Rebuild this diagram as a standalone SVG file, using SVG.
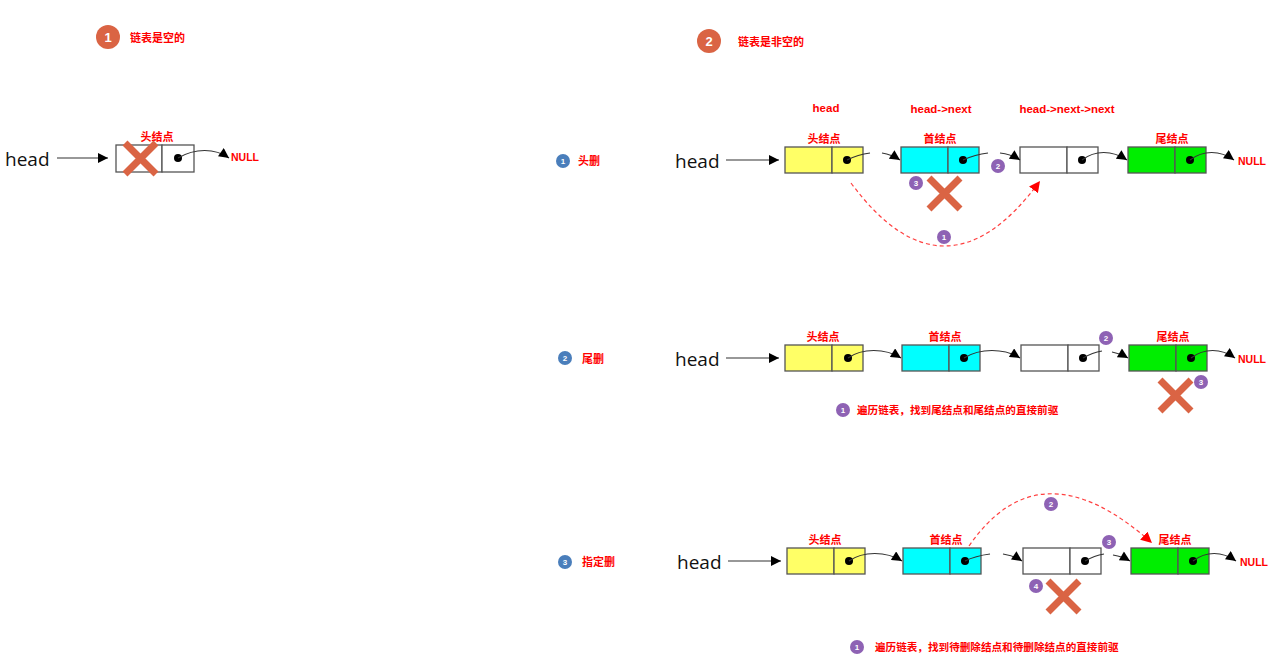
<svg xmlns="http://www.w3.org/2000/svg" width="1284" height="667" viewBox="0 0 1284 667">
<style>
.bg{fill:#fff}
.cell{stroke:#555;stroke-width:1.3}
.w{fill:#fff}.y{fill:#FFFF66}.c{fill:#00FFFF}.g{fill:#00EE00}
.lbl{font-family:"Noto Sans CJK SC","Liberation Sans",sans-serif;font-weight:bold;font-size:11px;fill:#FF0000}
.lbs{font-size:10.6px}
.en{font-family:"Liberation Sans","Noto Sans CJK SC",sans-serif;font-weight:bold;font-size:11.5px;fill:#FF0000}
.nul{font-family:"Liberation Sans",sans-serif;font-weight:bold;font-size:10.5px;fill:#FF0000}
.head{font-family:"Open Sans","Noto Sans",sans-serif;font-size:19px;fill:#111}
.ptr{fill:none;stroke:#333;stroke-width:1.2}
.dot{fill:#000}
.dash{fill:none;stroke:#FF4040;stroke-width:1.2;stroke-dasharray:4 3}
.x{stroke:#DA6444;stroke-width:7;stroke-linecap:butt}
.big{fill:#DA6444}
.pur{fill:#8E62B4}
.blu{fill:#4A7EBB}
.num{font-family:"Liberation Sans",sans-serif;font-weight:bold;fill:#fff;text-anchor:middle}
</style>
<defs>
<marker id="ah" viewBox="0 0 10 10" refX="10" refY="5" markerWidth="11" markerHeight="10" markerUnits="userSpaceOnUse" orient="auto"><path d="M0,0 L10,5 L0,10 z" fill="#000"/></marker>
<marker id="ahr" viewBox="0 0 10 10" refX="10" refY="5" markerWidth="11" markerHeight="11" markerUnits="userSpaceOnUse" orient="auto"><path d="M0,0 L10,5 L0,10 z" fill="#FF0000"/></marker>
</defs>
<rect class="bg" width="1284" height="667"/>

<!-- Section titles -->
<g id="title1">
<circle class="big" cx="108" cy="37" r="12"/><text class="num" x="108" y="42" font-size="13">1</text>
<text class="lbl" x="130" y="42">链表是空的</text>
</g>
<g id="title2">
<circle class="big" cx="709" cy="41" r="12"/><text class="num" x="709" y="46" font-size="13">2</text>
<text class="lbl" x="738" y="46">链表是非空的</text>
</g>
<g id="case1">
<circle class="blu" cx="563" cy="161" r="7"/><text class="num" x="563" y="164" font-size="8">1</text>
<text class="lbl" x="578" y="165">头删</text>
</g>
<g id="case2">
<circle class="blu" cx="565" cy="358" r="7"/><text class="num" x="565" y="361" font-size="8">2</text>
<text class="lbl" x="582" y="363">尾删</text>
</g>
<g id="case3">
<circle class="blu" cx="565" cy="562" r="7"/><text class="num" x="565" y="565" font-size="8">3</text>
<text class="lbl" x="582" y="566">指定删</text>
</g>

<!-- Section 1 -->
<g id="s1-head"><text class="head" x="5" y="166">head</text></g>
<g id="s1-node">
<rect class="cell w" x="116" y="145" width="46" height="27"/>
<rect class="cell w" x="162" y="145" width="32" height="27"/>
<text class="lbl" x="157" y="141" text-anchor="middle">头结点</text>
<circle class="dot" cx="178" cy="158" r="4"/>
<path class="x" d="M125,143 L156,174 M156,143 L125,174"/>
</g>
<g id="s1-null"><text class="nul" x="231" y="161">NULL</text></g>

<!-- Row 1 -->
<g id="r1-head"><text class="head" x="675" y="168">head</text></g>
<g id="r1-n1">
<rect class="cell y" x="785" y="147" width="47" height="26"/>
<rect class="cell y" x="832" y="147" width="31" height="26"/>
<circle class="dot" cx="847" cy="160" r="4"/>
<text class="lbl" x="824" y="143" text-anchor="middle">头结点</text>
<text class="en" x="826" y="112" text-anchor="middle">head</text>
</g>
<g id="r1-n2">
<rect class="cell c" x="901" y="147" width="47" height="26"/>
<rect class="cell c" x="948" y="147" width="31" height="26"/>
<circle class="dot" cx="963" cy="160" r="4"/>
<text class="lbl" x="940" y="143" text-anchor="middle">首结点</text>
<text class="en" x="941" y="113" text-anchor="middle">head-&gt;next</text>
</g>
<g id="r1-n3">
<rect class="cell w" x="1020" y="147" width="47" height="26"/>
<rect class="cell w" x="1067" y="147" width="31" height="26"/>
<circle class="dot" cx="1082" cy="160" r="4"/>
<text class="en" x="1067" y="113" text-anchor="middle">head-&gt;next-&gt;next</text>
</g>
<g id="r1-n4">
<rect class="cell g" x="1128" y="147" width="47" height="26"/>
<rect class="cell g" x="1175" y="147" width="31" height="26"/>
<circle class="dot" cx="1190" cy="160" r="4"/>
<text class="lbl" x="1172" y="143" text-anchor="middle">尾结点</text>
</g>
<g id="r1-null"><text class="nul" x="1238" y="165">NULL</text></g>
<g id="r1-marks">
<circle class="pur" cx="916" cy="183" r="7"/><text class="num" x="916" y="186" font-size="8">3</text>
<path class="x" d="M929,178 L960,209 M960,178 L929,209"/>
<circle class="pur" cx="998" cy="166" r="7"/><text class="num" x="998" y="169" font-size="8">2</text>
<circle class="pur" cx="944" cy="237" r="7"/><text class="num" x="944" y="240" font-size="8">1</text>
</g>

<!-- Row 2 -->
<g id="r2-head"><text class="head" x="675" y="366">head</text></g>
<g id="r2-n1">
<rect class="cell y" x="785" y="345" width="47" height="26"/>
<rect class="cell y" x="832" y="345" width="31" height="26"/>
<circle class="dot" cx="848" cy="358" r="4"/>
<text class="lbl" x="823" y="341" text-anchor="middle">头结点</text>
</g>
<g id="r2-n2">
<rect class="cell c" x="902" y="345" width="47" height="26"/>
<rect class="cell c" x="949" y="345" width="31" height="26"/>
<circle class="dot" cx="964" cy="358" r="4"/>
<text class="lbl" x="945" y="341" text-anchor="middle">首结点</text>
</g>
<g id="r2-n3">
<rect class="cell w" x="1021" y="345" width="47" height="26"/>
<rect class="cell w" x="1068" y="345" width="31" height="26"/>
<circle class="dot" cx="1083" cy="358" r="4"/>
</g>
<g id="r2-n4">
<rect class="cell g" x="1129" y="345" width="47" height="26"/>
<rect class="cell g" x="1176" y="345" width="31" height="26"/>
<circle class="dot" cx="1191" cy="358" r="4"/>
<text class="lbl" x="1173" y="341" text-anchor="middle">尾结点</text>
</g>
<g id="r2-null"><text class="nul" x="1238" y="363">NULL</text></g>
<g id="r2-marks">
<circle class="pur" cx="1106" cy="338" r="7"/><text class="num" x="1106" y="341" font-size="8">2</text>
<path class="x" d="M1160,380 L1191,411 M1191,380 L1160,411"/>
<circle class="pur" cx="1201" cy="382" r="7"/><text class="num" x="1201" y="385" font-size="8">3</text>
<circle class="pur" cx="843" cy="410" r="7"/><text class="num" x="843" y="413" font-size="8">1</text>
<text class="lbl lbs" x="857" y="414">遍历链表，找到尾结点和尾结点的直接前驱</text>
</g>

<!-- Row 3 -->
<g id="r3-head"><text class="head" x="677" y="569">head</text></g>
<g id="r3-n1">
<rect class="cell y" x="787" y="548" width="47" height="26"/>
<rect class="cell y" x="834" y="548" width="31" height="26"/>
<circle class="dot" cx="849" cy="561" r="4"/>
<text class="lbl" x="825" y="544" text-anchor="middle">头结点</text>
</g>
<g id="r3-n2">
<rect class="cell c" x="903" y="548" width="47" height="26"/>
<rect class="cell c" x="950" y="548" width="31" height="26"/>
<circle class="dot" cx="965" cy="561" r="4"/>
<text class="lbl" x="946" y="544" text-anchor="middle">首结点</text>
</g>
<g id="r3-n3">
<rect class="cell w" x="1023" y="548" width="47" height="26"/>
<rect class="cell w" x="1070" y="548" width="31" height="26"/>
<circle class="dot" cx="1085" cy="561" r="4"/>
</g>
<g id="r3-n4">
<rect class="cell g" x="1131" y="548" width="47" height="26"/>
<rect class="cell g" x="1178" y="548" width="31" height="26"/>
<circle class="dot" cx="1193" cy="561" r="4"/>
<text class="lbl" x="1175" y="544" text-anchor="middle">尾结点</text>
</g>
<g id="r3-null"><text class="nul" x="1240" y="566">NULL</text></g>
<g id="r3-marks">
<circle class="pur" cx="1109" cy="542" r="7"/><text class="num" x="1109" y="545" font-size="8">3</text>
<circle class="pur" cx="1036" cy="586" r="7"/><text class="num" x="1036" y="589" font-size="8">4</text>
<path class="x" d="M1048,581 L1079,612 M1079,581 L1048,612"/>
<circle class="pur" cx="1051" cy="504" r="7"/><text class="num" x="1051" y="507" font-size="8">2</text>
<circle class="pur" cx="857" cy="647" r="7"/><text class="num" x="857" y="650" font-size="8">1</text>
<text class="lbl lbs" x="875" y="651">遍历链表，找到待删除结点和待删除结点的直接前驱</text>
</g>

<!-- Connectors -->
<g id="connectors">
<line class="ptr" x1="57" y1="158" x2="108" y2="158" marker-end="url(#ah)"/>
<path class="ptr" d="M178,158 C195,148 215,148 229,158" marker-end="url(#ah)"/>
<line class="ptr" x1="726" y1="160" x2="779" y2="160" marker-end="url(#ah)"/>
<path class="ptr" d="M847,160 C855,156 862,154 870,153"/>
<path class="ptr" d="M882,153 C889,154 894,156 900,160" marker-end="url(#ah)"/>
<path class="ptr" d="M963,160 C972,156 980,154 988,153"/>
<path class="ptr" d="M1000,153 C1008,154 1014,156 1020,160" marker-end="url(#ah)"/>
<path class="ptr" d="M1082,160 C1095,150 1112,150 1127,160" marker-end="url(#ah)"/>
<path class="ptr" d="M1190,160 C1203,150 1220,150 1234,160" marker-end="url(#ah)"/>
<path class="dash" d="M851,183 Q945,310 1040,181" marker-end="url(#ahr)"/>
<line class="ptr" x1="726" y1="358" x2="779" y2="358" marker-end="url(#ah)"/>
<path class="ptr" d="M848,358 C862,348 885,348 901,358" marker-end="url(#ah)"/>
<path class="ptr" d="M964,358 C980,348 1004,348 1020,358" marker-end="url(#ah)"/>
<path class="ptr" d="M1083,358 C1090,354 1096,352 1102,351"/>
<path class="ptr" d="M1112,352 C1118,353 1123,355 1128,358" marker-end="url(#ah)"/>
<path class="ptr" d="M1191,358 C1204,348 1221,348 1235,358" marker-end="url(#ah)"/>
<line class="ptr" x1="728" y1="561" x2="781" y2="561" marker-end="url(#ah)"/>
<path class="ptr" d="M849,561 C863,551 886,551 902,561" marker-end="url(#ah)"/>
<path class="ptr" d="M965,561 C973,557 982,555 990,554"/>
<path class="ptr" d="M1003,554 C1010,555 1016,557 1022,561" marker-end="url(#ah)"/>
<path class="ptr" d="M1085,561 C1092,557 1098,555 1104,554"/>
<path class="ptr" d="M1113,555 C1119,556 1125,558 1130,561" marker-end="url(#ah)"/>
<path class="ptr" d="M1193,561 C1206,551 1222,551 1236,561" marker-end="url(#ah)"/>
<path class="dash" d="M969,546 Q1040,443 1152,543" marker-end="url(#ahr)"/>
</g>
</svg>
